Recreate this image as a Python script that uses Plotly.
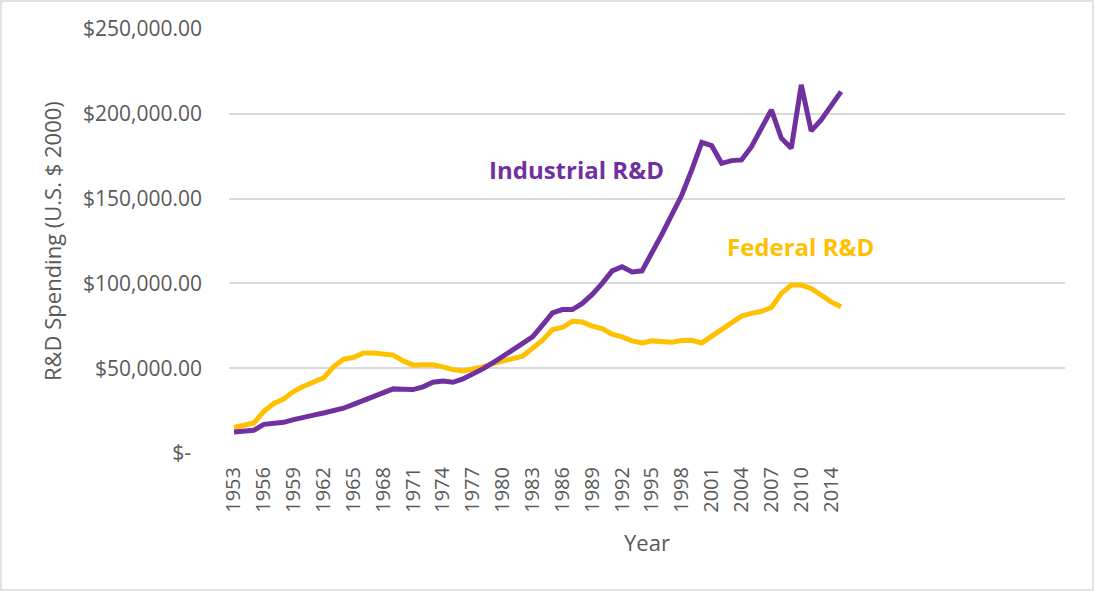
import plotly.graph_objects as go

# Fiscal years covered by the series (one category per observation)
years = list(range(1953, 2011)) + [2011, 2012, 2014, 2015]

# R&D spending, thousands of constant 2000 U.S. dollars
industrial_k = [
    12.4, 12.8, 13.4, 16.9, 17.3, 18.1, 19.7, 21.3, 22.3, 23.6,
    25.0, 26.4, 28.7, 31.1, 33.5, 35.9, 37.8, 37.6, 37.4, 39.0,
    41.7, 42.5, 41.7, 43.7, 46.3, 49.6, 53.1, 57.1, 60.6, 64.6,
    68.5, 75.4, 82.6, 84.6, 84.6, 88.2, 93.5, 100.0, 107.4, 109.8,
    106.8, 107.4, 117.7, 129.0, 140.5, 152.1, 166.9, 183.2, 181.2, 170.8,
    172.4, 172.8, 180.6, 191.1, 202.3, 185.6, 179.7, 217.1, 189.9, 196.4,
    205.3, 213.1,
]
federal_k = [
    15.0, 16.0, 17.7, 24.6, 29.2, 31.9, 36.4, 39.4, 41.5, 44.3,
    50.8, 55.3, 56.3, 59.0, 59.0, 58.7, 57.7, 54.3, 51.8, 52.0,
    52.0, 50.8, 49.2, 48.4, 49.6, 50.8, 52.8, 54.3, 55.1, 57.1,
    61.8, 66.5, 72.8, 74.0, 77.7, 77.3, 74.8, 73.4, 70.1, 68.5,
    66.1, 64.9, 66.1, 65.5, 65.3, 66.3, 66.5, 64.9, 68.9, 72.8,
    77.3, 80.7, 82.3, 83.5, 85.8, 94.1, 99.0, 99.0, 97.0, 93.1,
    89.1, 86.2,
]

# Value axis ticks
y_ticks = [0, 50000, 100000, 150000, 200000, 250000]
y_tick_text = ["$-\u00a0\u00a0", "$50,000.00", "$100,000.00",
               "$150,000.00", "$200,000.00", "$250,000.00"]

# Category axis: every third category is labelled; 84 slots in total
n_slots = 84
idx = list(range(len(years)))
tick_idx = idx[::3]
tick_text = [str(years[i]) for i in tick_idx]

purple = "#7030A0"
gold = "#FFC000"
grey_text = "#595959"
font = "Open Sans"

fig = go.Figure()
fig.add_trace(go.Scatter(
    x=idx, y=[v * 1000 for v in federal_k], mode="lines",
    line=dict(color=gold, width=5), name="Federal R&D",
))
fig.add_trace(go.Scatter(
    x=idx, y=[v * 1000 for v in industrial_k], mode="lines",
    line=dict(color=purple, width=5), name="Industrial R&D",
))

W, H = 1095, 592
ml, mr, mt, mb = 229, 30, 29, 139
pw, ph = W - ml - mr, H - mt - mb

fig.update_layout(
    width=W, height=H,
    margin=dict(l=ml, r=mr, t=mt, b=mb),
    paper_bgcolor="white", plot_bgcolor="white",
    showlegend=False,
    font=dict(family=font, color=grey_text),
    xaxis=dict(
        range=[-0.5, n_slots - 0.5],
        tickmode="array", tickvals=tick_idx, ticktext=tick_text,
        tickangle=-90, tickfont=dict(size=20, color=grey_text),
        showgrid=False, zeroline=False, showline=False, ticks="",
        ticklabelstandoff=9,
    ),
    yaxis=dict(
        range=[0, 250000],
        tickmode="array", tickvals=y_ticks, ticktext=y_tick_text,
        tickfont=dict(size=21, color=grey_text),
        showgrid=True, gridcolor="#D9D9D9", gridwidth=1.5,
        zeroline=False, showline=False, ticks="",
        ticklabelstandoff=26,
    ),
)

# Series labels
fig.add_annotation(x=34.4, y=167000, xref="x", yref="y", text="<b>Industrial R&D</b>",
                   showarrow=False, font=dict(family=font, size=24, color=purple))
fig.add_annotation(x=56.9, y=122000, xref="x", yref="y", text="<b>Federal R&D</b>",
                   showarrow=False, font=dict(family=font, size=24, color=gold))

# Axis titles
fig.add_annotation(x=(52 - ml) / pw, y=0.5, xref="paper", yref="paper",
                   xanchor="center", yanchor="middle",
                   text="R&D Spending (U.S. $ 2000)", textangle=-90, showarrow=False,
                   font=dict(family=font, size=22, color=grey_text))
fig.add_annotation(x=0.5, y=(H - mb - 542) / ph, xref="paper", yref="paper",
                   xanchor="center", yanchor="middle",
                   text="Year", showarrow=False,
                   font=dict(family=font, size=22, color=grey_text))

# Chart-area border
fig.add_shape(type="rect", xref="paper", yref="paper",
              x0=(1 - ml) / pw, x1=(W - 2 - ml) / pw,
              y0=(H - mb - (H - 2)) / ph, y1=(H - mb - 1) / ph,
              line=dict(color="#D9D9D9", width=1.5), fillcolor="rgba(0,0,0,0)", layer="below")

fig.write_html("out.html")
